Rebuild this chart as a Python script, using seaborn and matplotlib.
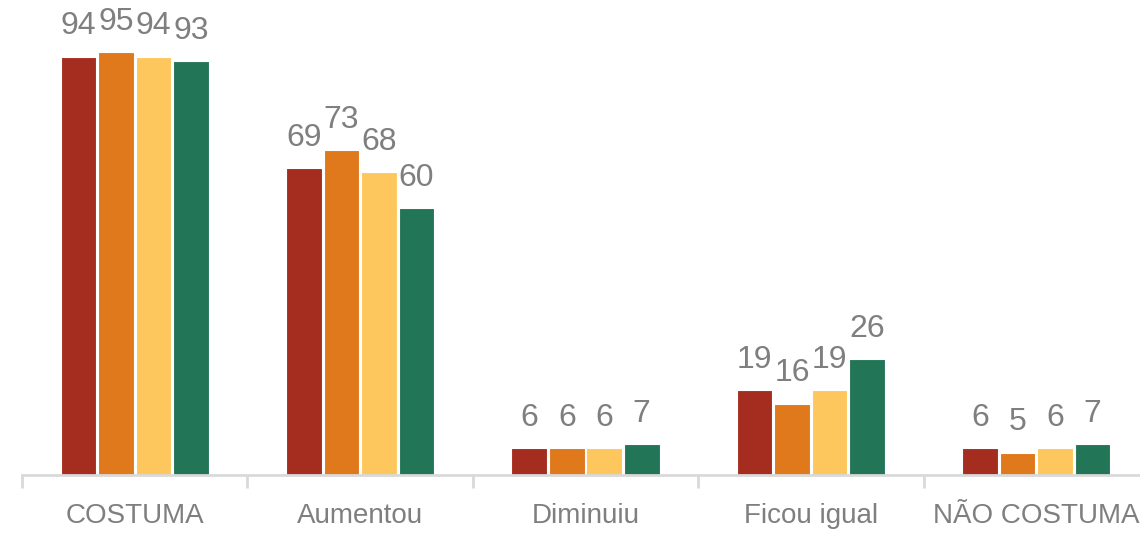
import matplotlib
matplotlib.use("Agg")
import matplotlib.pyplot as plt
import seaborn as sns
import pandas as pd
import numpy as np

categories = ["COSTUMA", "Aumentou", "Diminuiu", "Ficou igual", "NÃO COSTUMA"]
series_names = ["Série 1", "Série 2", "Série 3", "Série 4"]
serie1 = [94, 69, 6, 19, 6]
serie2 = [95, 73, 6, 16, 5]
serie3 = [94, 68, 6, 19, 6]
serie4 = [93, 60, 7, 26, 7]
colors = ["#A52D1F", "#E0781C", "#FDC75E", "#237558"]

rows = []
for name, vals in zip(series_names, [serie1, serie2, serie3, serie4]):
    for c, v in zip(categories, vals):
        rows.append({"categoria": c, "serie": name, "valor": v})
df = pd.DataFrame(rows)

sns.set_style("white")
plt.rcParams["font.family"] = ["Liberation Sans", "DejaVu Sans"]

fig = plt.figure(figsize=(11.4, 5.34), dpi=100)
ax = fig.add_axes([22 / 1140, 59 / 534, 1127 / 1140, 475 / 534])

sns.barplot(data=df, x="categoria", y="valor", hue="serie", order=categories,
            hue_order=series_names, palette=colors, saturation=1, width=0.665, gap=0.05,
            edgecolor="white", linewidth=0.8, legend=False, ax=ax)

ax.set_xlim(-0.5, 4.5)
ax.set_ylim(0, 106.7)

for container in ax.containers:
    labels = [f"{int(round(b.get_height()))}" for b in container]
    ax.bar_label(container, labels=labels, padding=11, color="#7F7F7F", fontsize=23)

ax.set_xlabel("")
ax.set_ylabel("")
ax.set_yticks([])
for s in ["top", "right", "left"]:
    ax.spines[s].set_visible(False)
ax.spines["bottom"].set_color("#D9D9D9")
ax.spines["bottom"].set_linewidth(2)

ax.set_xticks(range(len(categories)))
ax.set_xticklabels(categories)
ax.set_xticks(np.arange(-0.5, len(categories), 1.0), minor=True)
ax.tick_params(axis="x", which="major", bottom=True, length=0, pad=20, labelsize=20, labelcolor="#7F7F7F")
ax.tick_params(axis="x", which="minor", bottom=True, length=9, width=2, color="#D9D9D9", direction="out")

fig.savefig("out.png", dpi=100)
